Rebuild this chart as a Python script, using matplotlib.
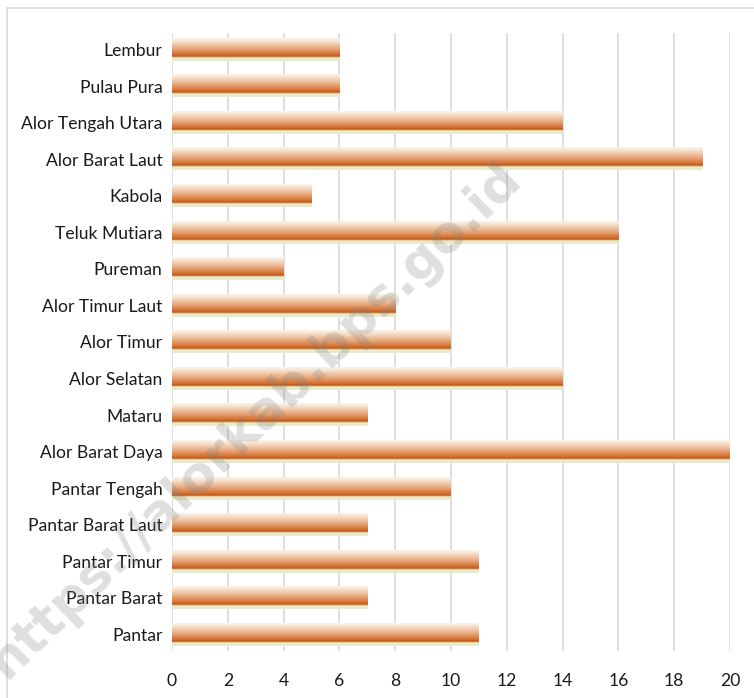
import matplotlib
matplotlib.use("Agg")
import matplotlib.pyplot as plt
import numpy as np
from matplotlib.colors import LinearSegmentedColormap
from matplotlib.patches import Rectangle

# data, top to bottom as shown in the chart
kecamatan = ["Lembur", "Pulau Pura", "Alor Tengah Utara", "Alor Barat Laut", "Kabola",
             "Teluk Mutiara", "Pureman", "Alor Timur Laut", "Alor Timur", "Alor Selatan",
             "Mataru", "Alor Barat Daya", "Pantar Tengah", "Pantar Barat Laut",
             "Pantar Timur", "Pantar Barat", "Pantar"]
jumlah = [6, 6, 14, 19, 5, 16, 4, 8, 10, 14, 7, 20, 10, 7, 11, 7, 11]
xticks = [0, 2, 4, 6, 8, 10, 12, 14, 16, 18, 20]

plt.rcParams['font.family'] = ['Lato', 'DejaVu Sans']

fig = plt.figure(figsize=(7.54, 6.98), dpi=100)
ax = fig.add_axes([172/754, 1-651/698, (730-172)/754, (651-33)/698])

# gradient used for each bar (top -> bottom)
grad = LinearSegmentedColormap.from_list("bar", [
    (0.0, "#f8f4ee"), (0.15, "#f4e0cc"), (0.45, "#e6a97e"),
    (0.74, "#cf6a2a"), (0.79, "#c5560f"), (0.83, "#d9894a"),
    (0.86, "#f2e6c4"), (1.0, "#e6eecb")])
g = np.linspace(0, 1, 64).reshape(-1, 1)

n = len(kecamatan)
ypos = np.arange(n)[::-1]
h = 0.62
bars = ax.barh(ypos, jumlah, height=h, color="none", zorder=2)
for b in bars:
    x0, y0 = b.get_x(), b.get_y()
    ax.imshow(g, cmap=grad, aspect="auto", origin="upper",
              extent=(x0, x0 + b.get_width(), y0, y0 + b.get_height()), zorder=2)

ax.set_xlim(0, 20)
ax.set_ylim(-0.45, n - 1 + 0.45)
ax.set_xticks(xticks)
ax.set_yticks(ypos)
ax.set_yticklabels(kecamatan)
ax.grid(axis="x", color="#d9d9d9", linewidth=1.2, zorder=0)
ax.set_axisbelow(True)
for s in ax.spines.values():
    s.set_visible(False)
ax.tick_params(length=0, labelsize=12.6, colors="#1a1a1a")
ax.tick_params(axis="x", pad=16)
ax.tick_params(axis="y", pad=7)

# outer chart frame
fig.patches.append(Rectangle((7/754, -0.1), 1.2, 1 - 8/698 + 0.1, transform=fig.transFigure,
                             fill=False, edgecolor="#d9d9d9", linewidth=1.2))

# watermark
fig.text(255/754, 1-420/698, "https://alorkab.bps.go.id", rotation=44,
         ha="center", va="center", fontsize=37, fontweight="bold",
         color="#808080", alpha=0.25, family="DejaVu Sans", zorder=10)

fig.savefig("out.png", dpi=100)
